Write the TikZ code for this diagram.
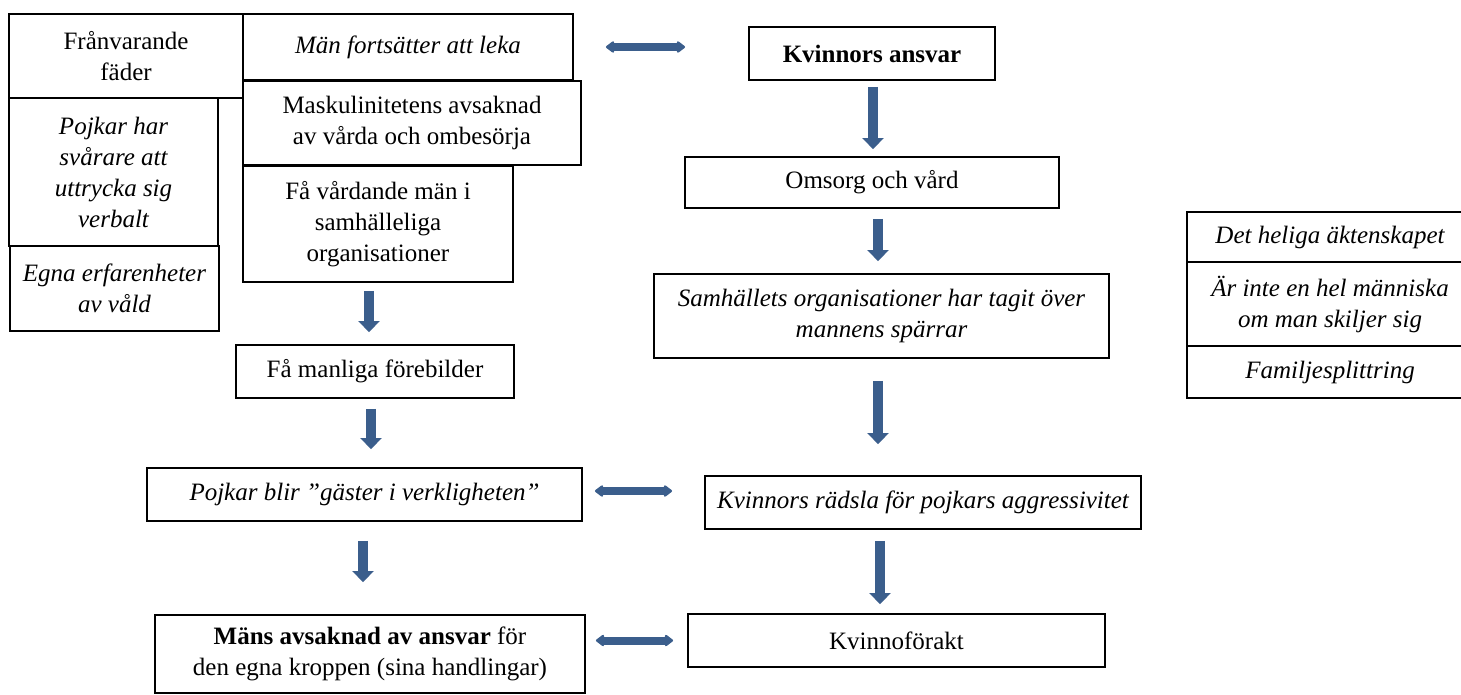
\documentclass[tikz,border=0pt]{standalone}
\usepackage{fontspec}
\setmainfont{Liberation Serif}
\usetikzlibrary{arrows.meta, positioning}
\definecolor{pilblue}{RGB}{59,94,140}

\begin{document}
\begin{tikzpicture}[x=0.5pt, y=-0.5pt,
  ruta/.style={draw, line width=0.9pt, align=center, inner sep=1pt,
    font=\fontsize{12.5}{15.5}\selectfont},
  ned/.style={draw=pilblue, line width=4.75pt,
    -{Triangle[width=10.5pt, length=5.5pt]}, pilblue},
  dubbel/.style={draw=pilblue, line width=4pt,
    {Triangle[width=6.5pt, length=4.5pt, round]}-{Triangle[width=6.5pt, length=4.5pt, round]}, pilblue}]
\useasboundingbox (0,0) rectangle (1461,695);

\node[ruta, minimum width=117pt, minimum height=42pt] (faeder) at (126,56) {Frånvarande\\fäder};
\node[ruta, minimum width=165pt, minimum height=33pt] (leka) at (408,47) {\itshape Män fortsätter att leka};
\node[ruta, minimum width=169pt, minimum height=42pt] (mask) at (412,123) {Maskulinitetens avsaknad\\av vårda och ombesörja};
\node[ruta, minimum width=135pt, minimum height=58pt] (vaardande) at (378,224) {Få vårdande män i\\samhälleliga\\organisationer};
\node[ruta, minimum width=104.5pt, minimum height=74pt] (pojkar) at (113.5,172) {\itshape Pojkar har\\\itshape svårare att\\\itshape uttrycka sig\\\itshape verbalt};
\node[ruta, minimum width=104.5pt, minimum height=42.5pt] (vaald) at (114.5,288.5) {\itshape Egna erfarenheter\\\itshape av våld};
\node[ruta, minimum width=139pt, minimum height=26.5pt] (foerebilder) at (375,371.5) {Få manliga förebilder};
\node[ruta, minimum width=217.5pt, minimum height=26.5pt] (gaester) at (364.5,494.5) {\itshape Pojkar blir ”gäster i verkligheten”};
\node[ruta, minimum width=215pt, minimum height=39pt] (ansvarmaen) at (370,654) {\textbf{Mäns avsaknad av ansvar} för\\den egna kroppen (sina handlingar)};

\node[ruta, minimum width=123pt, minimum height=26.5pt] (ansvar) at (872,53.5) {\bfseries Kvinnors ansvar};
\node[ruta, minimum width=187pt, minimum height=25.5pt] (omsorg) at (872,182.5) {Omsorg och vård};
\node[ruta, minimum width=227.5pt, minimum height=42pt] (samh) at (881.5,316) {\itshape Samhällets organisationer har tagit över\\\itshape mannens spärrar};
\node[ruta, minimum width=218pt, minimum height=26.5pt] (raedsla) at (923,502.5) {\itshape Kvinnors rädsla för pojkars aggressivitet};
\node[ruta, minimum width=208.5pt, minimum height=26.5pt] (foerakt) at (896.5,640.5) {Kvinnoförakt};

\node[ruta, minimum width=143pt, minimum height=25pt] (heliga) at (1330,237) {\itshape Det heliga äktenskapet};
\node[ruta, minimum width=143pt, minimum height=42pt] (hel) at (1330,304) {\itshape Är inte en hel människa\\\itshape om man skiljer sig};
\node[ruta, minimum width=143pt, minimum height=26pt] (splitt) at (1330,372) {\itshape Familjesplittring};

\draw[ned, shorten <=3pt, shorten >=3.5pt] ([xshift=0.5pt]ansvar.south) -- ([xshift=0.5pt]ansvar.south |- omsorg.north);
\draw[ned, shorten <=5pt, shorten >=6pt] ([xshift=3pt]omsorg.south) -- ([xshift=3pt]omsorg.south |- samh.north);
\draw[ned, shorten <=11pt, shorten >=15.5pt] ([xshift=-1.75pt]samh.south) -- ([xshift=-1.75pt]samh.south |- raedsla.north);
\draw[ned, shorten <=5.5pt, shorten >=4.5pt] ([xshift=-21.5pt]raedsla.south) -- ([xshift=-21.5pt]raedsla.south |- foerakt.north);
\draw[ned, shorten <=4pt, shorten >=6pt] ([xshift=-4.5pt]vaardande.south) -- ([xshift=-4.5pt]vaardande.south |- foerebilder.north);
\draw[ned, shorten <=5pt, shorten >=9pt] ([xshift=-2pt]foerebilder.south) -- ([xshift=-2pt]foerebilder.south |- gaester.north);
\draw[ned, shorten <=9.5pt, shorten >=16pt] ([xshift=-0.75pt]gaester.south) -- ([xshift=-0.75pt]gaester.south |- ansvarmaen.north);

\draw[dubbel, shorten <=16pt, shorten >=31.5pt] (leka.east) -- (ansvar.west |- leka.east);
\draw[dubbel, shorten <=6pt, shorten >=16pt] ([yshift=1.75pt]gaester.east) -- ([yshift=1.75pt]raedsla.west |- gaester.east);
\draw[dubbel, shorten <=5pt, shorten >=7pt] (ansvarmaen.east |- foerakt.west) -- (foerakt.west);
\end{tikzpicture}
\end{document}
